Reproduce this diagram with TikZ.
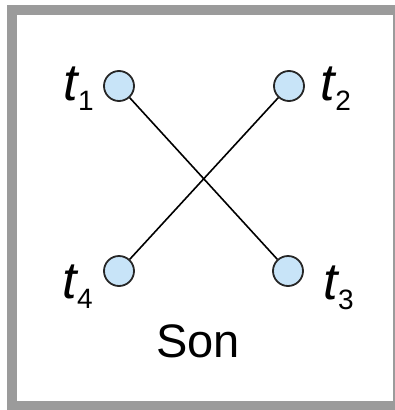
\documentclass[tikz,border=0pt]{standalone}
\usepackage{fontspec}
\setmainfont{Liberation Sans}
\usepackage{tikz}
\definecolor{pinblue}{RGB}{200,228,248}
\definecolor{framegray}{RGB}{155,155,155}
\tikzset{every picture/.style={line width=1.6pt}}
\newcommand{\tlab}[1]{{\fontsize{52}{52}\selectfont\itshape t}\raisebox{-10pt}{\fontsize{28}{28}\selectfont #1}}

\begin{document}
\begin{tikzpicture}[x=1pt,y=-1pt,
  pin/.style={circle,draw=black!85,fill=pinblue,line width=1.8pt,minimum size=30pt,inner sep=0pt},
  lab/.style={inner sep=0pt,anchor=base west}]
\useasboundingbox (0,0) rectangle (394,410);
\draw[framegray,line width=10pt] (12,10) rectangle (398,406);
\node[pin] (p1) at (119,86) {};
\node[pin] (p2) at (289,86) {};
\node[pin] (p3) at (288,271) {};
\node[pin] (p4) at (119,271) {};
\node[lab] (l1) at (63,100) {\tlab{1}};
\node[lab] (l2) at (320,100) {\tlab{2}};
\node[lab] (l3) at (323,299) {\tlab{3}};
\node[lab] (l4) at (62,298) {\tlab{4}};
\draw (p1) -- (p3);
\draw (p2) -- (p4);
\node[inner sep=0pt,anchor=base] (son) at (198,357) {\fontsize{47}{47}\selectfont Son};
\end{tikzpicture}
\end{document}
